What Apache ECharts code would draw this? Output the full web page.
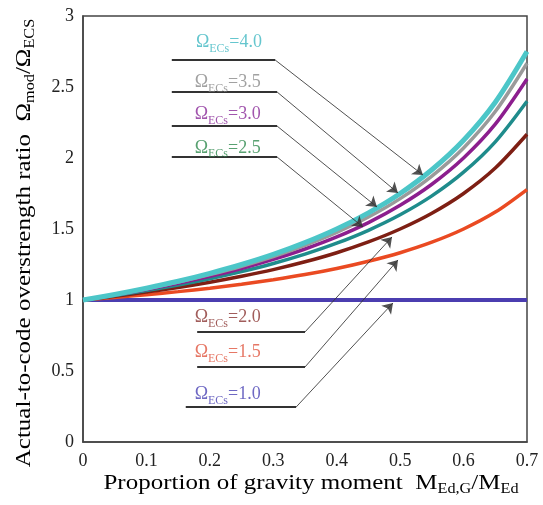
<!DOCTYPE html>
<html><head><meta charset="utf-8">
<script src="https://cdn.jsdelivr.net/npm/echarts@6/dist/echarts.min.js"></script>
<style>html,body{margin:0;padding:0;background:#fff}#c{width:543px;height:505px}</style>
</head><body><div id="c"></div>
<script>
// x values (proportion of gravity moment)
const xValues = [0, 0.05, 0.1, 0.15, 0.2, 0.25, 0.3, 0.35, 0.4, 0.45, 0.5, 0.55, 0.6, 0.65, 0.7];
// ratio curves
const omega10 = [1, 1, 1, 1, 1, 1, 1, 1, 1, 1, 1, 1, 1, 1, 1];
const omega15 = [1, 1.018, 1.037, 1.059, 1.083, 1.111, 1.143, 1.179, 1.222, 1.273, 1.333, 1.407, 1.5, 1.619, 1.778];
const omega20 = [1, 1.026, 1.056, 1.088, 1.125, 1.167, 1.214, 1.269, 1.333, 1.409, 1.5, 1.611, 1.75, 1.929, 2.167];
const omega25 = [1, 1.032, 1.067, 1.106, 1.15, 1.2, 1.257, 1.323, 1.4, 1.491, 1.6, 1.733, 1.9, 2.114, 2.4];
const omega30 = [1, 1.035, 1.074, 1.118, 1.167, 1.222, 1.286, 1.359, 1.444, 1.545, 1.667, 1.815, 2.0, 2.238, 2.556];
const omega35 = [1, 1.038, 1.079, 1.126, 1.179, 1.238, 1.306, 1.385, 1.476, 1.584, 1.714, 1.873, 2.071, 2.327, 2.667];
const omega40 = [1, 1.039, 1.083, 1.132, 1.188, 1.25, 1.321, 1.404, 1.5, 1.614, 1.75, 1.917, 2.125, 2.393, 2.75];
const seriesLabels = ['1.0', '1.5', '2.0', '2.5', '3.0', '3.5', '4.0'];
const xTicks = [0, 0.1, 0.2, 0.3, 0.4, 0.5, 0.6, 0.7];
const yTicks = [0, 0.5, 1, 1.5, 2, 2.5, 3];

const seriesValues = [omega10, omega15, omega20, omega25, omega30, omega35, omega40];
const lineColors = ['#4b3db0', '#ea4a22', '#7e1f14', '#1f8c8c', '#8c1e8e', '#9a9a9a', '#4cc6c8'];
const textColors = ['#4a42b4', '#e0553f', '#8a3532', '#2e8a4e', '#8a2a98', '#8a8a8a', '#3fb8c2'];
const lineWidths = [4, 3.5, 3.5, 3.5, 3.5, 3.5, 5];

// annotation layout (data units): [label x, label y, underline x1, underline x2, underline y, arrow tip x, arrow tip y]
const annot = [
  [0.176, 0.335, 0.162, 0.336, 0.246, 0.4887, 0.979],
  [0.176, 0.630, 0.180, 0.350, 0.528, 0.4966, 1.282],
  [0.176, 0.876, 0.180, 0.350, 0.775, 0.4872, 1.444],
  [0.176, 2.072, 0.140, 0.306, 2.007, 0.4414, 1.514],
  [0.176, 2.305, 0.140, 0.306, 2.225, 0.4635, 1.655],
  [0.176, 2.530, 0.140, 0.306, 2.465, 0.4966, 1.754],
  [0.178, 2.812, 0.140, 0.303, 2.690, 0.536, 1.880]
];

const FONT = 'Liberation Serif';
const series = [];
seriesValues.forEach((vals, i) => {
  series.push({
    type: 'line', name: seriesLabels[i], data: xValues.map((x, j) => [x, vals[j]]),
    smooth: 0.3, showSymbol: false, symbol: 'none',
    lineStyle: { color: lineColors[i], width: lineWidths[i] }, z: 2 + i
  });
});
// underlines
series.push({
  type: 'lines', coordinateSystem: 'cartesian2d', z: 20, symbol: 'none',
  lineStyle: { color: '#333', width: 1.8, opacity: 1 },
  data: annot.map(a => ({ coords: [[a[2], a[4]], [a[3], a[4]]] }))
});
// leader arrows
series.push({
  type: 'lines', coordinateSystem: 'cartesian2d', z: 20,
  symbol: ['none', 'arrow'], symbolSize: [7, 10],
  lineStyle: { color: '#333', width: 1, opacity: 0.85 },
  data: annot.map(a => ({ coords: [[a[3], a[4]], [a[5], a[6]]] }))
});
// labels
const rich = {};
textColors.forEach((c, i) => {
  rich['o' + i] = { fontFamily: FONT, fontSize: 18, color: c, lineHeight: 24, verticalAlign: 'middle' };
  rich['s' + i] = { fontFamily: FONT, fontSize: 12, color: c, lineHeight: 11, verticalAlign: 'bottom' };
});
series.push({
  type: 'scatter', symbolSize: 0, z: 21, silent: true,
  data: annot.map((a, i) => ({ value: [a[0], a[1]], idx: i })),
  label: {
    show: true, position: 'right', distance: 0,
    formatter: p => { const i = p.data.idx; return '{o' + i + '|Ω}{s' + i + '|ECs}{o' + i + '|=' + seriesLabels[i] + '}'; },
    rich: rich
  }
});

const titleRich = {
  m: { fontFamily: FONT, fontSize: 20, color: '#222', lineHeight: 26, verticalAlign: 'middle' },
  s: { fontFamily: FONT, fontSize: 13, color: '#222', lineHeight: 12, verticalAlign: 'bottom' }
};

const chart = echarts.init(document.getElementById('c'));
chart.setOption({
  animation: false,
  backgroundColor: '#fff',
  grid: { left: 83, right: 16, top: 16, bottom: 63, show: true, borderColor: '#444', borderWidth: 1.5 },
  xAxis: {
    type: 'value', min: 0, max: 0.7, interval: 0.1,
    axisLine: { show: true, lineStyle: { color: '#444', width: 1.5 } },
    axisTick: { show: false }, splitLine: { show: false },
    axisLabel: { margin: 10, fontFamily: FONT, fontSize: 18, color: '#222', formatter: v => xTicks.includes(+v.toFixed(2)) ? String(+v.toFixed(2)) : '' }
  },
  yAxis: {
    type: 'value', min: 0, max: 3, interval: 0.5,
    axisLine: { show: true, lineStyle: { color: '#444', width: 1.5 } },
    axisTick: { show: false }, splitLine: { show: false },
    axisLabel: { margin: 9, fontFamily: FONT, fontSize: 18, color: '#222', formatter: v => yTicks.includes(v) ? String(v) : '' }
  },
  graphic: [
    { type: 'text', x: 311, y: 483, scaleX: 1.25, scaleY: 1.05,
      style: { text: '{m|Proportion of gravity moment  M}{s|Ed,G}{m|/M}{s|Ed}', rich: titleRich, align: 'center', verticalAlign: 'middle' } },
    { type: 'text', x: 24, y: 243, rotation: Math.PI / 2, scaleX: 1.25, scaleY: 1.05,
      style: { text: '{m|Actual-to-code overstrength ratio  Ω}{s|mod}{m|/Ω}{s|ECS}', rich: titleRich, align: 'center', verticalAlign: 'middle' } }
  ],
  series: series
});
</script></body></html>
